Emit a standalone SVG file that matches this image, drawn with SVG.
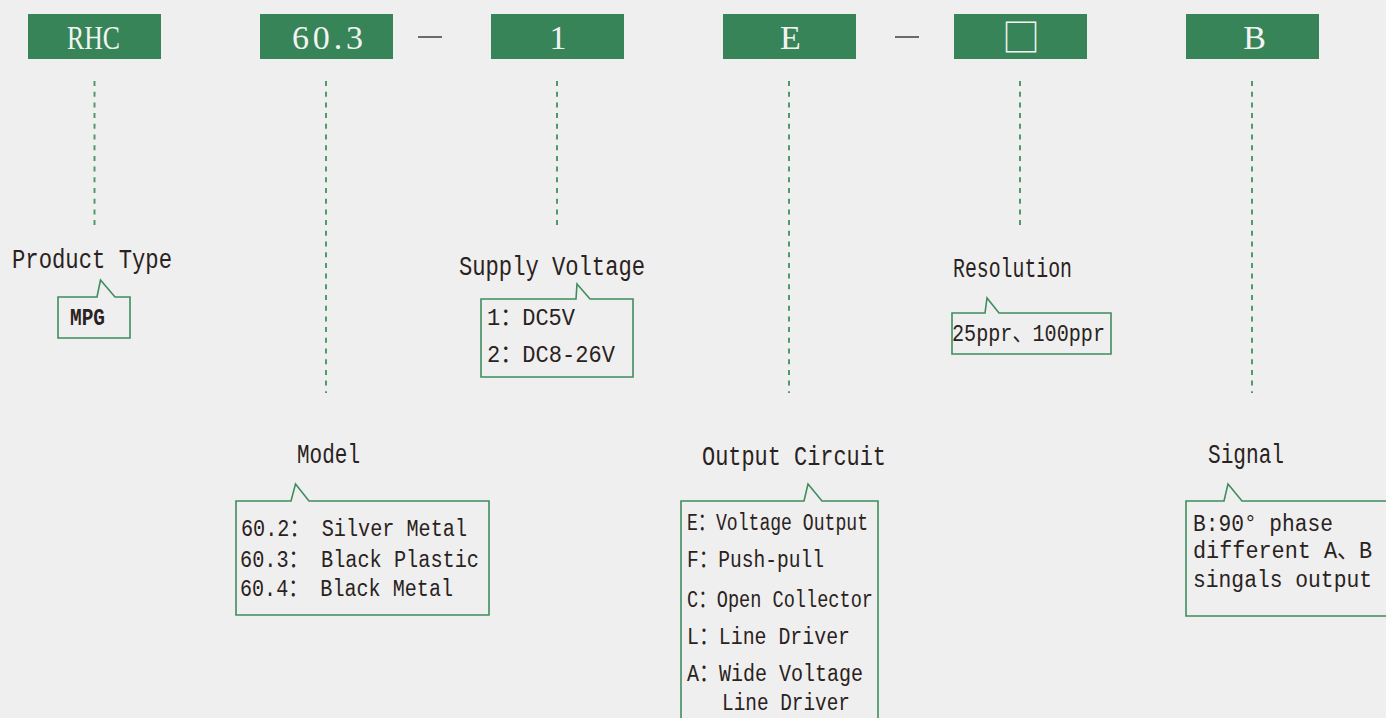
<svg xmlns="http://www.w3.org/2000/svg" width="1386" height="718" viewBox="0 0 1386 718">
<style>
.bg{fill:#efefef}
.hbox{fill:#378458}
.htxt{font-family:"Liberation Serif","Noto Sans CJK SC",serif;font-size:34px;fill:#f3f3f3}
.dash{stroke:#4f9a6c;stroke-width:2;stroke-dasharray:5 5.7;fill:none}
.sep{stroke:#4a4a4a;stroke-width:1.6}
.call{fill:none;stroke:#3f8d5f;stroke-width:1.6}
.h{font-family:"Liberation Mono","Noto Sans CJK SC",monospace;font-size:27px;fill:#2a2220}
.t{font-family:"Liberation Mono","Noto Sans CJK SC",monospace;font-size:23.5px;fill:#2a2220}
.b{font-weight:bold}
</style>
<rect class="bg" x="0" y="0" width="1386" height="718"/>
<g id="header">
  <g id="h-rhc"><rect class="hbox" x="28" y="14" width="133" height="45"/><text class="htxt" x="67" y="49" textLength="53" lengthAdjust="spacingAndGlyphs">RHC</text></g>
  <g id="h-model"><rect class="hbox" x="260" y="14" width="133" height="45"/><text class="htxt" x="292" y="49" textLength="71" lengthAdjust="spacing">60.3</text></g>
  <g id="h-volt"><rect class="hbox" x="491" y="14" width="133" height="45"/><text class="htxt" x="558" y="49" text-anchor="middle">1</text></g>
  <g id="h-out"><rect class="hbox" x="723" y="14" width="133" height="45"/><text class="htxt" x="790.5" y="49" text-anchor="middle">E</text></g>
  <g id="h-res"><rect class="hbox" x="954" y="14" width="133" height="45"/><text x="1021" y="51" text-anchor="middle" style="font-family:'Noto Sans CJK SC','DejaVu Sans',sans-serif;font-size:38px;fill:#f3f3f3">□</text></g>
  <g id="h-sig"><rect class="hbox" x="1186" y="14" width="133" height="45"/><text class="htxt" x="1254.5" y="49" text-anchor="middle">B</text></g>
  <line class="sep" x1="418" y1="37" x2="442" y2="37"/>
  <line class="sep" x1="895" y1="37" x2="919" y2="37"/>
</g>
<g id="connectors">
  <line class="dash" x1="94.5" y1="81" x2="94.5" y2="226"/>
  <line class="dash" x1="326" y1="81" x2="326" y2="393"/>
  <line class="dash" x1="557" y1="81" x2="557" y2="226"/>
  <line class="dash" x1="789" y1="81" x2="789" y2="393"/>
  <line class="dash" x1="1020" y1="81" x2="1020" y2="226"/>
  <line class="dash" x1="1252" y1="81" x2="1252" y2="393"/>
</g>
<g id="product-type">
  <text class="h" x="12" y="268" textLength="160" lengthAdjust="spacingAndGlyphs">Product Type</text>
  <path class="call" d="M58,297 H97 L100.5,280 L115,297 H130 V338 H58 Z"/>
  <text class="t b" x="70" y="325" textLength="35" lengthAdjust="spacingAndGlyphs">MPG</text>
</g>
<g id="supply-voltage">
  <text class="h" x="459" y="275" textLength="186" lengthAdjust="spacingAndGlyphs">Supply Voltage</text>
  <path class="call" d="M481,299 H576 L577,284 L590,299 H633 V377 H481 Z"/>
  <text class="t" x="487" y="325" textLength="88" lengthAdjust="spacingAndGlyphs">1：DC5V</text>
  <text class="t" x="487" y="362" textLength="128" lengthAdjust="spacingAndGlyphs">2：DC8-26V</text>
</g>
<g id="resolution">
  <text class="h" x="953" y="277" textLength="119" lengthAdjust="spacingAndGlyphs">Resolution</text>
  <path class="call" d="M952,313 H985 L987,298 L999,313 H1111 V354 H952 Z"/>
  <text class="t" x="952" y="341" textLength="153" lengthAdjust="spacingAndGlyphs">25ppr、100ppr</text>
</g>
<g id="model">
  <text class="h" x="297" y="463" textLength="63" lengthAdjust="spacingAndGlyphs">Model</text>
  <path class="call" d="M236,501 H291 L295.5,484 L309,501 H489 V615 H236 Z"/>
  <text class="t" x="241" y="536" textLength="226" lengthAdjust="spacingAndGlyphs">60.2：  Silver Metal</text>
  <text class="t" x="240" y="567" textLength="239" lengthAdjust="spacingAndGlyphs">60.3：  Black Plastic</text>
  <text class="t" x="240" y="596" textLength="213" lengthAdjust="spacingAndGlyphs">60.4：  Black Metal</text>
</g>
<g id="output-circuit">
  <text class="h" x="702" y="465" textLength="184" lengthAdjust="spacingAndGlyphs">Output Circuit</text>
  <path class="call" d="M681,730 V501 H804 L808,484 L822,501 H878 V730"/>
  <text class="t" x="687" y="530" textLength="181" lengthAdjust="spacingAndGlyphs">E：Voltage Output</text>
  <text class="t" x="687" y="567" textLength="137" lengthAdjust="spacingAndGlyphs">F：Push-pull</text>
  <text class="t" x="687" y="607" textLength="186" lengthAdjust="spacingAndGlyphs">C：Open Collector</text>
  <text class="t" x="687" y="644" textLength="163" lengthAdjust="spacingAndGlyphs">L：Line Driver</text>
  <text class="t" x="687" y="681" textLength="176" lengthAdjust="spacingAndGlyphs">A：Wide Voltage</text>
  <text class="t" x="722" y="710" textLength="128" lengthAdjust="spacingAndGlyphs">Line Driver</text>
</g>
<g id="signal">
  <text class="h" x="1208" y="463" textLength="76" lengthAdjust="spacingAndGlyphs">Signal</text>
  <path class="call" d="M1400,616 H1186 V501 H1224 L1228,484 L1242,501 H1400"/>
  <text class="t" x="1193" y="531" textLength="140" lengthAdjust="spacingAndGlyphs">B:90° phase</text>
  <text class="t" x="1193" y="558" textLength="179" lengthAdjust="spacingAndGlyphs">different A、B</text>
  <text class="t" x="1193" y="587" textLength="179" lengthAdjust="spacingAndGlyphs">singals output</text>
</g>
</svg>
